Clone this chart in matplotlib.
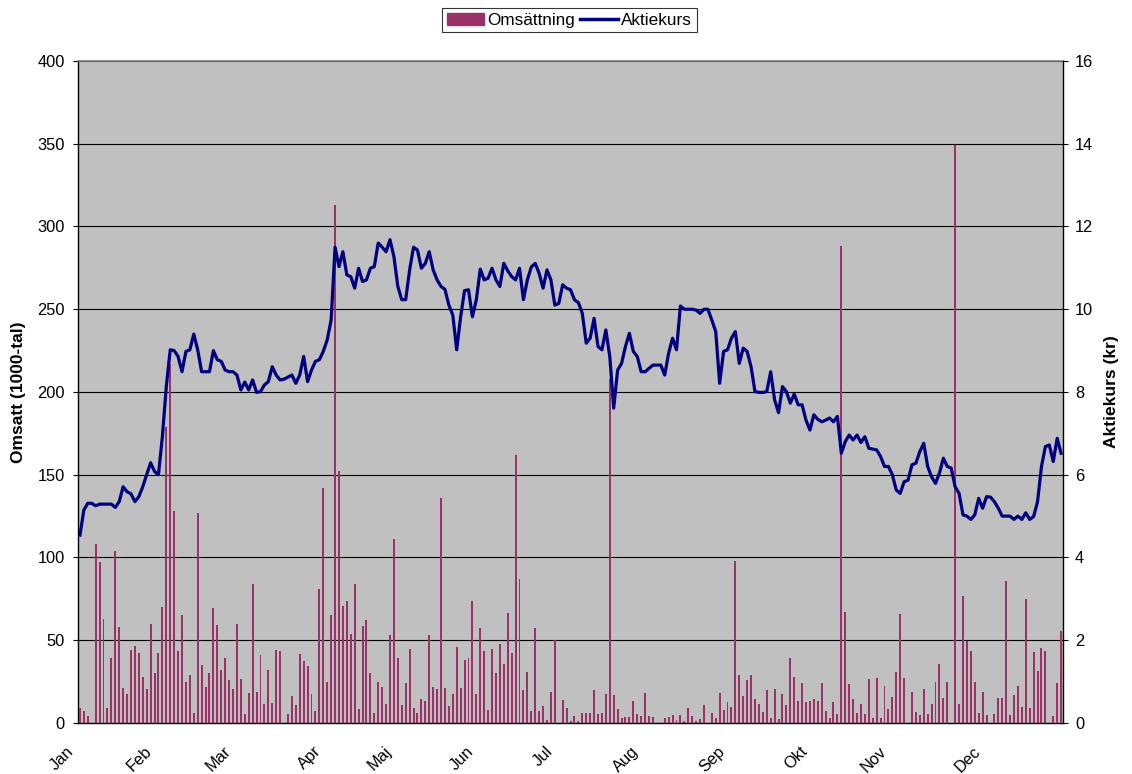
import matplotlib
matplotlib.use("Agg")
import matplotlib.pyplot as plt
import matplotlib.patches as mpatches
import matplotlib.lines as mlines
import matplotlib.transforms as mtransforms
import numpy as np

plt.rcParams['font.family'] = ['Liberation Sans', 'DejaVu Sans']

# daily turnover (1000-tal), one value per trading day
omsattning = [
    8.9, 7, 4, 0, 108, 97, 63, 9, 39, 104, 58, 21, 17.5, 44, 46.5, 42, 28, 20.5, 60, 30,
    42, 70, 179, 217, 128, 43.5, 65, 25, 29, 6, 127,
    35, 22, 30, 69.5, 59, 32, 39, 26, 20.5, 60, 26.5, 5.4, 18, 84, 18.7, 41, 11.5, 32, 12,
    44, 43.5, 0, 5.4, 16.3, 11, 41.7, 37.5, 34.4, 17.5, 7.3, 81,
    142, 25, 65, 313, 152, 70.7, 73.7, 54, 84, 8.5, 58.6, 62, 30, 6, 25, 22, 11.5, 53, 111,
    39, 11, 24, 45, 9, 6, 14.5, 13.3, 53, 22, 20.5,
    136, 21, 10, 17.5, 46, 21, 38, 39, 73.7, 17.5, 57.4, 43.5, 7.9, 44.7, 30, 47.7, 35.6,
    66.5, 42, 162, 87, 20, 30.8, 7.3, 57.4, 7.3, 10, 1.8, 18.7, 50,
    0, 14, 9, 1.2, 4.2, 1.2, 6, 6, 6, 20, 5.4, 6, 17.5, 208, 17, 8.5, 3, 3.6, 3.6, 13.3,
    5.4, 4.2, 18, 4.2, 3.6, 0, 0, 3, 3.6, 4.8, 1.8,
    4.8, 1.2, 9, 4.2, 1.2, 2.4, 11, 0, 6, 3, 18, 7.9, 12.7, 9.7, 98, 29, 16.3, 26, 29, 14.5,
    11.5, 6.6, 20, 3, 20.5, 2.4, 17.5, 11, 39, 28, 13.3,
    24, 12.7, 13.3, 14.5, 13.3, 24, 7.3, 3, 12.7, 5.4, 288, 67, 23.6, 14.5, 6, 11.5, 5.4,
    26.6, 3, 27.2, 3, 22.4, 8.5, 15.7, 30.8, 65.9, 27.2, 0, 18.7, 6.6, 4.8,
    20.5, 5.4, 11.5, 25, 35.6, 15, 24.8, 0, 349, 11.5, 77, 49.5, 43.5, 25, 6, 18.7, 4.8, 0,
    5.4, 15, 15, 86, 4.8, 17, 22.4, 9.7, 75, 9, 43, 31.4, 45.3, 43.5, 0, 4.2, 24, 55.6,
]

# closing share price (kr)
aktiekurs = [
    4.54, 5.15, 5.31, 5.31, 5.25, 5.29, 5.29, 5.29, 5.29, 5.21, 5.35, 5.71, 5.59, 5.54, 5.35,
    5.47, 5.71, 6.0, 6.29, 6.08, 6.0, 6.92, 8.13, 9.02, 9.0, 8.86, 8.49, 8.98, 9.02, 9.4, 9.02,
    8.49, 8.49, 8.49, 9.0, 8.78, 8.74, 8.53, 8.49, 8.49, 8.41, 8.05, 8.24, 8.05, 8.29, 7.99,
    8.01, 8.17, 8.25, 8.61, 8.41, 8.29, 8.31, 8.36, 8.41, 8.21, 8.41, 8.86, 8.25, 8.53, 8.74, 8.78,
    8.98, 9.26, 9.74, 11.5, 11.03, 11.39, 10.83, 10.79, 10.51, 10.99, 10.67, 10.71, 10.99,
    11.03, 11.6, 11.5, 11.39, 11.68, 11.27, 10.55, 10.23, 10.23, 10.95, 11.5, 11.43, 10.99,
    11.11, 11.39, 10.95, 10.71,
    10.55, 10.48, 10.1, 9.86, 9.02, 9.82, 10.45, 10.47, 9.82, 10.23, 10.97, 10.71, 10.75,
    10.99, 10.71, 10.55, 11.11, 10.93, 10.79, 10.71, 10.99, 10.23, 10.71, 11.02, 11.11,
    10.87, 10.51, 10.95, 10.71, 10.1,
    10.14, 10.59, 10.51, 10.47, 10.23, 10.16, 9.9, 9.18, 9.3, 9.78, 9.1, 9.02, 9.5, 8.86,
    7.61, 8.53, 8.69, 9.1, 9.42, 8.98, 8.86, 8.49, 8.49, 8.57, 8.65, 8.65, 8.65, 8.41, 8.94,
    9.3, 9.02,
    10.08, 10.0, 10.0, 10.0, 9.98, 9.9, 10.0, 10.0, 9.74, 9.46, 8.21, 8.98, 9.02, 9.3, 9.46,
    8.69, 9.06, 8.98, 8.61, 8.01, 7.99, 7.99, 8.01, 8.49, 7.81, 7.5, 8.13, 8.01, 7.73, 7.95, 7.69,
    7.69, 7.32, 7.08, 7.45, 7.34, 7.28, 7.32, 7.37, 7.28, 7.41, 6.52, 6.8, 6.96, 6.84, 6.96,
    6.78, 6.92, 6.64, 6.62, 6.6, 6.44, 6.2, 6.2, 6.0, 5.63, 5.55, 5.83, 5.87, 6.24, 6.28, 6.56,
    6.76, 6.2, 5.95, 5.79, 6.04, 6.4, 6.2, 6.16, 5.71, 5.55, 5.03, 5.0, 4.92, 5.03, 5.43,
    5.19, 5.47, 5.46, 5.35, 5.19, 5.0, 5.0, 5.0, 4.92, 5.0, 4.92, 5.08, 4.92, 4.99, 5.35,
    6.2, 6.68, 6.72, 6.32, 6.88, 6.52,
]

manader = ["Jan", "Feb", "Mar", "Apr", "Maj", "Jun", "Jul", "Aug", "Sep", "Okt", "Nov", "Dec"]
# index of first trading day in each month
manad_start = [0, 20, 40, 63, 81, 102, 122, 144, 166, 187, 207, 231]

dagar = np.arange(len(omsattning))

fig = plt.figure(figsize=(11.32, 7.74), dpi=100)
ax = fig.add_axes([0.0689, 0.0659, 0.8702, 0.8553])
ax.set_facecolor("#C0C0C0")

ax.bar(dagar, omsattning, width=0.5, color="#993366", linewidth=0, antialiased=False, zorder=3)
ax.set_ylim(0, 400)
ax.set_yticks(range(0, 401, 50))
ax.set_xlim(-0.5, len(omsattning) - 0.5)
ax.grid(axis="y", color="black", linewidth=0.8, zorder=1)
ax.set_axisbelow(True)

ax.set_xticks(manad_start)
ax.set_xticklabels(manader, rotation=45, ha="right", va="top", rotation_mode="anchor")
ax.tick_params(axis="x", length=0, pad=15, labelsize=11.8)
# shift month labels so they end just left of the first day of the month
skift = mtransforms.ScaledTranslation(-0.14, 0, fig.dpi_scale_trans)
for lab in ax.get_xticklabels():
    lab.set_transform(lab.get_transform() + skift)

ax.tick_params(axis="y", direction="out", length=3.6, width=0.8, labelsize=11.8, pad=6)
ax.set_ylabel("Omsatt (1000-tal)", fontsize=12.5, fontweight="bold", labelpad=8)

for s in ["left", "bottom"]:
    ax.spines[s].set_color("black")
    ax.spines[s].set_linewidth(1.0)
ax.spines["top"].set_color("#808080")
ax.spines["top"].set_linewidth(1.2)
ax.spines["right"].set_visible(False)

ax2 = ax.twinx()
ax2.plot(dagar, aktiekurs, color="#000080", linewidth=2.3, zorder=4)
ax2.set_ylim(0, 16)
ax2.set_yticks(range(0, 17, 2))
ax2.tick_params(axis="y", direction="out", length=3.6, width=0.8, labelsize=11.8, pad=5)
ax2.set_ylabel("Aktiekurs (kr)", fontsize=12.5, fontweight="bold", labelpad=8)
ax2.spines["right"].set_color("black")
ax2.spines["right"].set_linewidth(1.0)
for s in ["top", "left", "bottom"]:
    ax2.spines[s].set_visible(False)

handles = [
    mpatches.Patch(color="#993366", label="Omsättning"),
    mlines.Line2D([], [], color="#000080", linewidth=2.5, label="Aktiekurs"),
]
leg = fig.legend(handles=handles, loc="center", bbox_to_anchor=(0.503, 0.974), ncol=2,
                 frameon=True, fancybox=False, fontsize=12.3, handlelength=2.2,
                 handletextpad=0.2, columnspacing=0.3, borderpad=0.25)
leg.get_frame().set_edgecolor("black")
leg.get_frame().set_linewidth(0.8)

fig.savefig("out.png", dpi=100)
